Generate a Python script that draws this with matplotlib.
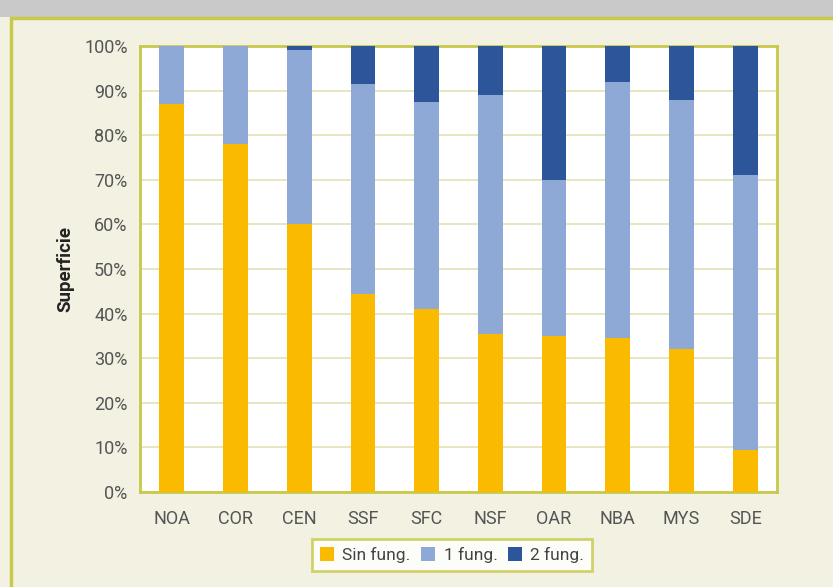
import matplotlib.pyplot as plt
from matplotlib.patches import Rectangle
from matplotlib.ticker import PercentFormatter

plt.rcParams['font.family'] = ['Roboto', 'DejaVu Sans']

regiones = ['NOA', 'COR', 'CEN', 'SSF', 'SFC', 'NSF', 'OAR', 'NBA', 'MYS', 'SDE']
sin_fung = [87, 78, 60, 44.5, 41, 35.5, 35, 34.5, 32, 9.5]
una_fung = [13, 22, 39, 47, 46.5, 53.5, 35, 57.5, 56, 61.5]
dos_fung = [0, 0, 1, 8.5, 12.5, 11, 30, 8, 12, 29]

AMARILLO = '#F9BA00'
CELESTE = '#8EA9D6'
AZUL = '#2D5599'
OLIVA = '#C8C84A'
CREMA = '#F3F1E1'

fig = plt.figure(figsize=(8.33, 5.87), dpi=100)
fig.patch.set_facecolor(CREMA)

# franja gris superior y marco del panel
fig.add_artist(Rectangle((0, 1 - 17 / 587), 1, 17 / 587, transform=fig.transFigure,
                         facecolor='#C9C9C9', edgecolor='none', zorder=0))
fig.add_artist(Rectangle((11 / 833, -0.01), 1.0, 1 - 18 / 587 + 0.01, transform=fig.transFigure,
                         facecolor='none', edgecolor=OLIVA, linewidth=2.5, zorder=1))

ax = fig.add_axes([140 / 833, 1 - 492 / 587, 637 / 833, 446 / 587])
ax.set_facecolor('white')

x = range(len(regiones))
ancho = 0.39
b1 = ax.bar(x, sin_fung, ancho, color=AMARILLO, label='Sin fung.', zorder=3)
b2 = ax.bar(x, una_fung, ancho, bottom=sin_fung, color=CELESTE, label='1 fung.', zorder=3)
base2 = [a + b for a, b in zip(sin_fung, una_fung)]
b3 = ax.bar(x, dos_fung, ancho, bottom=base2, color=AZUL, label='2 fung.', zorder=3)

ax.set_xlim(-0.5, len(regiones) - 0.5)
ax.set_ylim(0, 100)
ax.set_yticks(range(0, 101, 10))
ax.yaxis.set_major_formatter(PercentFormatter(decimals=0))
ax.set_xticks(list(x))
ax.set_xticklabels(regiones)
ax.tick_params(axis='both', length=0, labelsize=13, colors='#555555')
ax.tick_params(axis='x', pad=13)
ax.tick_params(axis='y', pad=9)
ax.grid(axis='y', color='#E4E2B4', linewidth=1.2, zorder=0)
for s in ax.spines.values():
    s.set_color(OLIVA)
    s.set_linewidth(2)

ax.set_ylabel('Superficie', fontsize=13.5, fontweight='bold', color='#222222', labelpad=7)

leg = fig.legend(handles=[b1, b2, b3], loc='center', bbox_to_anchor=(452 / 833, 1 - 555 / 587),
                 ncol=3, frameon=True, fontsize=12.5, handlelength=0.8, handleheight=0.8,
                 handletextpad=0.5, columnspacing=0.6, borderpad=0.45, fancybox=False)
leg.get_frame().set_edgecolor(OLIVA)
leg.get_frame().set_linewidth(2)
for t in leg.get_texts():
    t.set_color('#444444')

fig.savefig('out.png', dpi=100, facecolor=fig.get_facecolor())
